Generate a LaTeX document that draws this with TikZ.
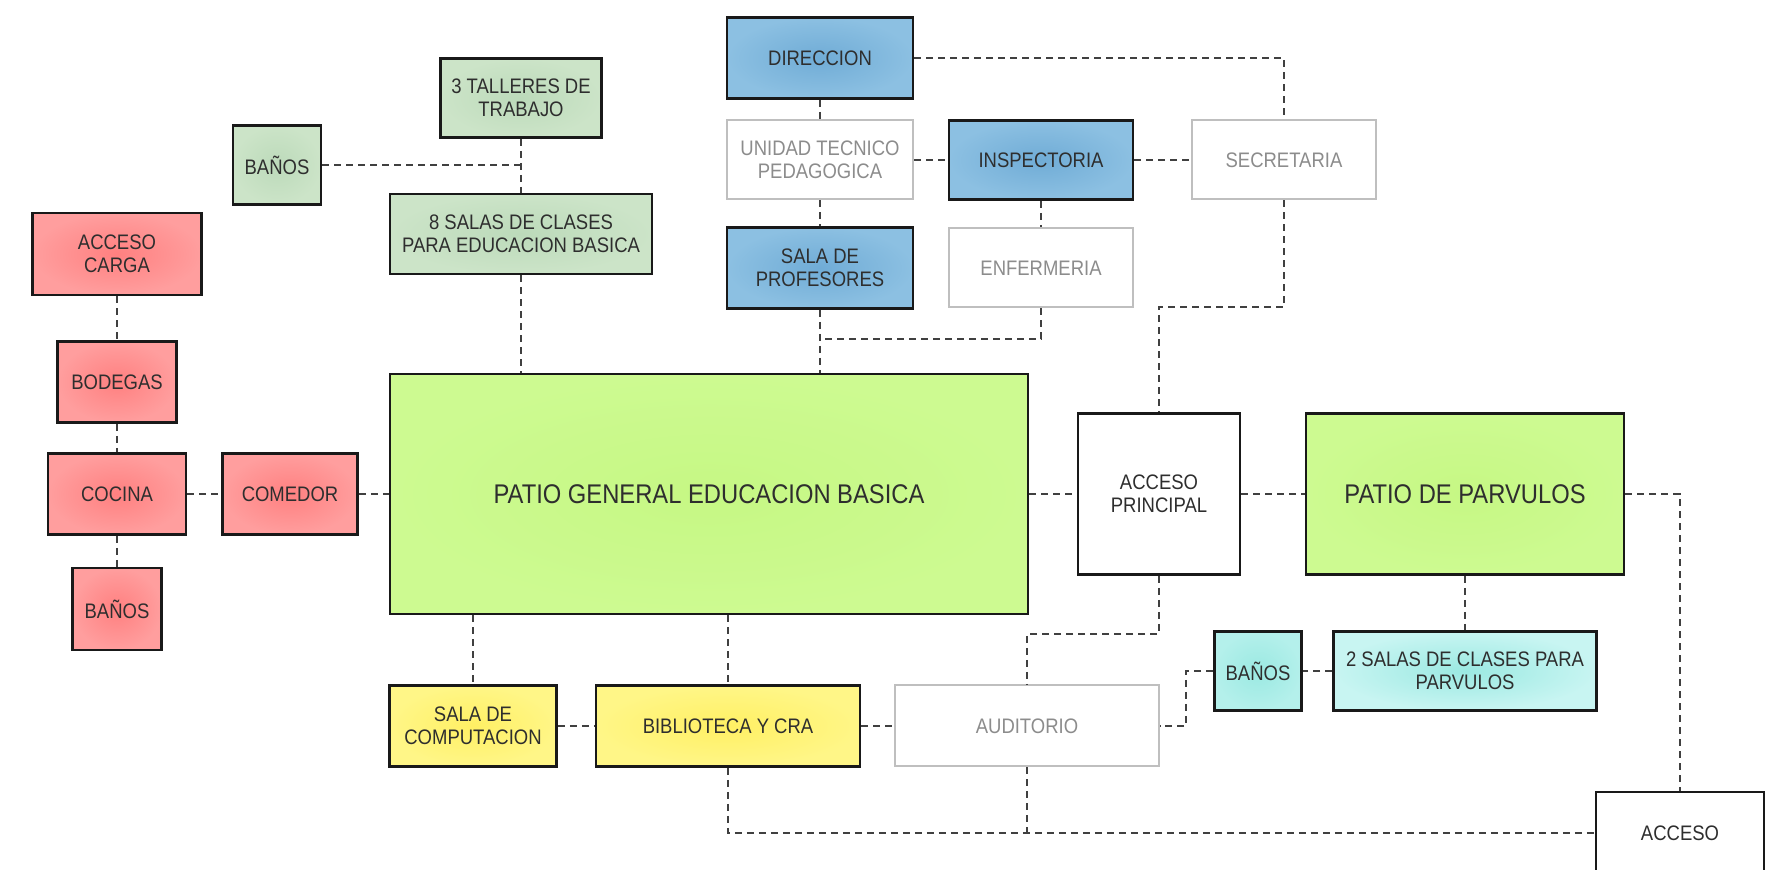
\documentclass[tikz,border=0pt]{standalone}
\usepackage{fontspec}
\setmainfont{Liberation Sans}[FakeStretch=0.88]
\usetikzlibrary{shadings,calc}

\definecolor{redIn}{RGB}{255,128,128}
\definecolor{redOut}{RGB}{255,158,158}
\definecolor{sageIn}{RGB}{188,218,186}
\definecolor{sageOut}{RGB}{204,228,200}
\definecolor{blueIn}{RGB}{112,172,214}
\definecolor{blueOut}{RGB}{140,192,226}
\definecolor{yelIn}{RGB}{255,240,100}
\definecolor{yelOut}{RGB}{255,246,135}
\definecolor{cyanIn}{RGB}{155,233,226}
\definecolor{cyanOut}{RGB}{180,240,235}
\definecolor{cyanLight}{RGB}{200,245,242}
\definecolor{patioIn}{RGB}{198,248,132}
\definecolor{patioOut}{RGB}{205,250,145}

\tikzset{
	wh/.style 2 args={minimum width=#1, minimum height=#2},
	roomline/.style={draw=black!90, line width=1.4pt, align=center, inner sep=0pt,
		text=black!82, font=\fontsize{10.5}{11.5}\selectfont},
	room/.style={roomline, shading=radial},
	redroom/.style={room, inner color=redIn, outer color=redOut},
	sageroom/.style={room, inner color=sageIn, outer color=sageOut},
	blueroom/.style={room, inner color=blueIn, outer color=blueOut},
	yelroom/.style={room, inner color=yelIn, outer color=yelOut},
	cyanroom/.style={room, inner color=cyanIn, outer color=cyanOut},
	patioroom/.style={room, inner color=patioIn, outer color=patioOut,
		font=\fontsize{13.5}{15}\selectfont},
	whiteroom/.style={roomline, fill=white},
	grayroom/.style={draw=black!25, line width=1pt, fill=white, align=center,
		inner sep=0pt, text=black!45, font=\fontsize{10.5}{11.5}\selectfont},
	link/.style={draw=black!75, line width=0.8pt, dash pattern=on 3.5pt off 2.5pt},
}

\begin{document}
\begin{tikzpicture}[x=0.5pt, y=-0.5pt]

	\useasboundingbox[fill=white] (0,0) rectangle (1789,870);

	% cocina y servicios
	\node[redroom, wh={84.5pt}{41pt}] (carga) at (117,254) {ACCESO\\CARGA};
	\node[redroom, wh={59.5pt}{40.5pt}] (bodegas) at (117,382) {BODEGAS};
	\node[redroom, wh={69pt}{40.5pt}] (cocina) at (117,494) {COCINA};
	\node[redroom, wh={67.5pt}{40.5pt}] (comedor) at (290,494) {COMEDOR};
	\node[redroom, wh={44.5pt}{41pt}] (banosA) at (117,609) {BAÑOS};

	% salas basica
	\node[sageroom, wh={80.5pt}{39.5pt}] (talleres) at (521,98) {3 TALLERES DE\\TRABAJO};
	\node[sageroom, wh={44pt}{39.5pt}] (banosB) at (277,165) {BAÑOS};
	\node[sageroom, wh={131pt}{40pt}] (salas) at (521,234) {8 SALAS DE CLASES\\PARA EDUCACION BASICA};

	\node[patioroom, wh={319pt}{120pt}] (patio) at (709,494) {PATIO GENERAL EDUCACION BASICA};

	% administracion
	\node[blueroom, wh={93pt}{40.5pt}] (direccion) at (820,58) {DIRECCION};
	\node[grayroom, wh={93pt}{39.5pt}] (utp) at (820,160) {UNIDAD TECNICO\\PEDAGOGICA};
	\node[blueroom, wh={92pt}{39.5pt}] (inspectoria) at (1041,160) {INSPECTORIA};
	\node[grayroom, wh={92pt}{39.5pt}] (secretaria) at (1284,160) {SECRETARIA};
	\node[blueroom, wh={93pt}{40.5pt}] (profesores) at (820,268) {SALA DE\\PROFESORES};
	\node[grayroom, wh={92pt}{39.5pt}] (enfermeria) at (1041,268) {ENFERMERIA};

	% accesos y parvulos
	\node[whiteroom, wh={81pt}{80.5pt}] (accesop) at (1159,494) {ACCESO\\PRINCIPAL};
	\node[patioroom, wh={159pt}{80.5pt}] (parvulos) at (1465,494) {PATIO DE PARVULOS};
	\node[cyanroom, wh={43.5pt}{39.5pt}] (banosC) at (1258,671) {BAÑOS};
	\node[cyanroom, outer color=cyanLight, wh={131.5pt}{39.5pt}] (salasP) at (1465,671) {2 SALAS DE CLASES PARA\\PARVULOS};
	\node[whiteroom, wh={84pt}{41pt}] (acceso) at (1680,833) {ACCESO};

	% biblioteca
	\node[yelroom, wh={83.5pt}{40.5pt}] (computacion) at (473,726) {SALA DE\\COMPUTACION};
	\node[yelroom, wh={132pt}{40.5pt}] (biblioteca) at (728,726) {BIBLIOTECA Y CRA};
	\node[grayroom, wh={132pt}{40.5pt}] (auditorio) at (1027,726) {AUDITORIO};

	% conexiones
	\foreach \a/\b in {carga/bodegas, bodegas/cocina, cocina/banosA, cocina/comedor,
		comedor/patio, talleres/salas, direccion/utp, utp/profesores, utp/inspectoria,
		inspectoria/secretaria, inspectoria/enfermeria, patio/accesop, accesop/parvulos,
		parvulos/salasP, salasP/banosC, computacion/biblioteca, biblioteca/auditorio}
		\draw[link] (\a) -- (\b);

	\coordinate (jEnf) at (820,339);
	\coordinate (jSec) at (1159,307);

	\draw[link] (banosB) -- (banosB -| salas);
	\draw[link] (salas) -- (salas |- patio.north);
	\draw[link] (direccion) -| (secretaria);
	\draw[link] (profesores) -- (profesores |- patio.north);
	\draw[link] (enfermeria) |- (jEnf);
	\draw[link] (secretaria) |- (jSec) -- (accesop);
	\draw[link] (parvulos) -| (acceso);
	\draw[link] (banosC.west) -- ++(-27,0) |- (auditorio.east);
	\draw[link] (accesop.south) -- ++(0,58) -| (auditorio);
	\draw[link] (computacion |- patio.south) -- (computacion);
	\draw[link] (biblioteca |- patio.south) -- (biblioteca);
	\draw[link] (biblioteca) |- (acceso);
	\draw[link] (auditorio) -- (auditorio |- acceso.west);

\end{tikzpicture}
\end{document}
